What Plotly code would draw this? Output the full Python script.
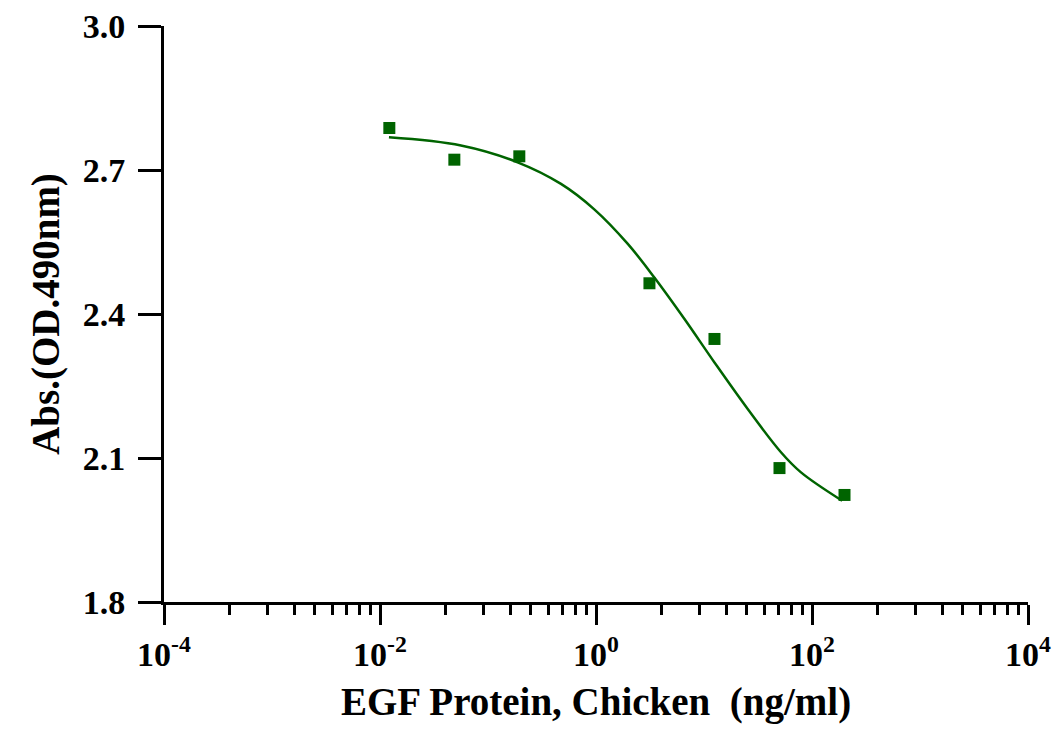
import plotly.graph_objects as go

# measured points (ng/ml vs OD490)
conc = [0.0122, 0.0488, 0.195, 3.125, 12.5, 50, 200]
od = [2.7875, 2.7215, 2.7285, 2.464, 2.348, 2.079, 2.023]

# fitted curve
fit_x = [0.0121, 0.0562, 0.188, 0.474, 0.964, 1.97, 3.47, 6.57, 12.5, 25.4, 51.6, 79.1, 190]
fit_y = [2.768, 2.751, 2.716, 2.671, 2.618, 2.546, 2.476, 2.390, 2.299, 2.202, 2.112, 2.070, 2.011]

major_vals = [1e-4, 1e-2, 1, 1e2, 1e4]
major_text = ['10<sup>-4</sup>', '10<sup>-2</sup>', '10<sup>0</sup>', '10<sup>2</sup>', '10<sup>4</sup>']

green = '#006400'
font_family = 'Liberation Serif, Times New Roman, serif'

# GraphPad style minor ticks: k^2 steps inside each 100x block
minor_vals = [b * k * k for b in major_vals[:-1] for k in range(2, 10)]

fig = go.Figure()
fig.add_trace(go.Scatter(
    x=fit_x, y=fit_y, mode='lines',
    line=dict(color=green, width=2.5, shape='spline', smoothing=1.0),
    showlegend=False, hoverinfo='skip',
))
fig.add_trace(go.Scatter(
    x=conc, y=od, mode='markers',
    marker=dict(symbol='square', size=12, color=green),
    showlegend=False,
))

fig.update_layout(
    width=1063, height=745,
    margin=dict(l=156, r=43, t=18, b=151),
    paper_bgcolor='white', plot_bgcolor='white',
    font=dict(family=font_family, color='black', size=33, weight='bold'),
)
fig.update_xaxes(
    type='log', range=[-4, 4],
    tickmode='array', tickvals=major_vals, ticktext=major_text,
    ticks='outside', ticklen=20, tickwidth=3, tickcolor='black',
    minor=dict(tickmode='array', tickvals=minor_vals, ticks='outside',
               ticklen=10, tickwidth=3, tickcolor='black', showgrid=False),
    showline=True, linecolor='black', linewidth=3,
    showgrid=False, zeroline=False, ticklabeloverflow='allow',
    tickfont=dict(size=34, family=font_family, weight='bold'),
    title=dict(text='EGF Protein, Chicken&nbsp; (ng/ml)', standoff=16,
               font=dict(size=39, family=font_family, weight='bold')),
    automargin=False,
)
fig.update_yaxes(
    range=[1.8, 3.0], tickmode='linear', tick0=1.8, dtick=0.3, tickformat='.1f',
    ticks='outside', ticklen=23, tickwidth=3, tickcolor='black',
    ticklabelstandoff=6, ticklabeloverflow='allow',
    showline=True, linecolor='black', linewidth=3,
    showgrid=False, zeroline=False,
    tickfont=dict(size=34, family=font_family, weight='bold'),
    title=dict(text='Abs.(OD.490nm)', standoff=12,
               font=dict(size=39, family=font_family, weight='bold')),
    automargin=False,
)

fig.write_html('out.html')
